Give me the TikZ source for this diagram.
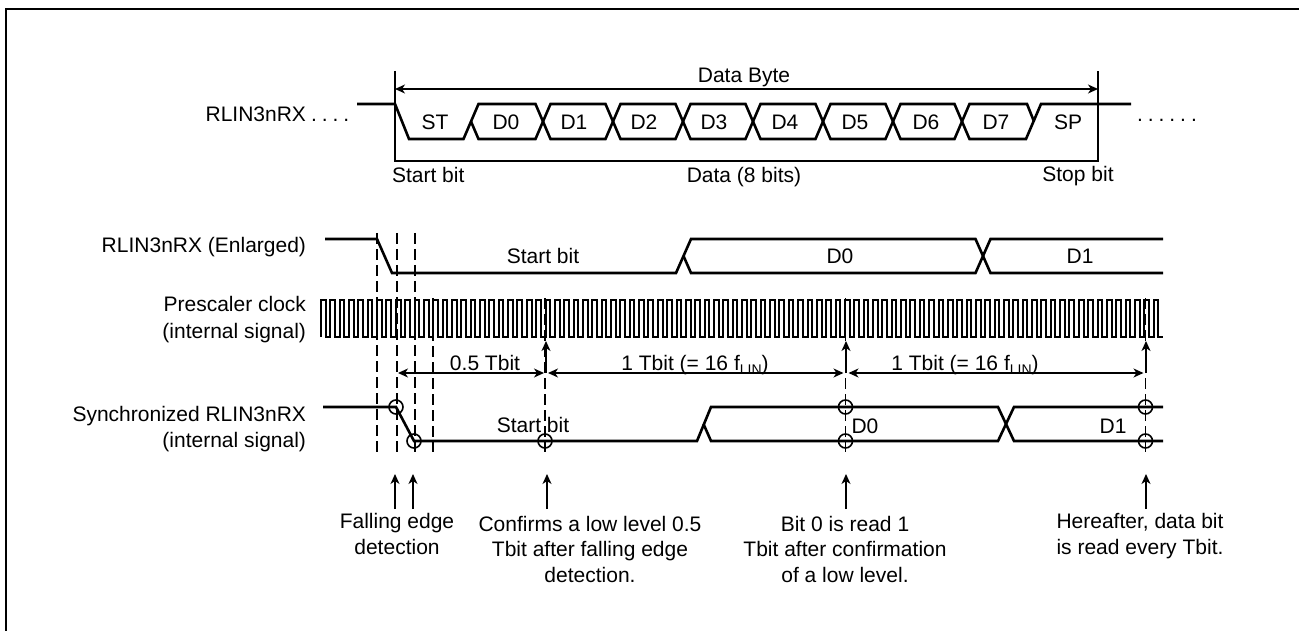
\documentclass[tikz,border=0pt]{standalone}
\usepackage{fontspec}
\setmainfont{Liberation Sans}
\usetikzlibrary{arrows.meta}
\newcommand{\spdots}[1]{\foreach \i in {1,...,#1}{\hbox to 10.8pt{.\hss}}}
\newcommand{\flin}{f\raisebox{-0.22em}{\fontsize{14}{14}\selectfont LIN}}
\tikzset{
  x=1pt,y=-1pt,
  every node/.style={inner sep=0pt,outer sep=0pt,font=\fontsize{21}{25}\selectfont,text=black},
  sig/.style={line width=2.6pt,line join=miter},
  box/.style={line width=2pt},
  clk/.style={line width=2pt,line join=miter},
  dsh/.style={line width=1.3pt,dash pattern=on 11pt off 5pt},
  arr/.style={line width=1.3pt,-{Stealth[length=10pt,width=9pt,inset=3pt]}},
  darr/.style={line width=1.3pt,{Stealth[length=10pt,width=9pt,inset=3pt]}-{Stealth[length=10pt,width=9pt,inset=3pt]}},
  ring/.style={line width=1.6pt},
  lab/.style={anchor=base east,align=right},
  cen/.style={anchor=base,align=center},
}
\begin{document}
\begin{tikzpicture}
\useasboundingbox (0,0) rectangle (1299,631);
\draw[line width=2pt] (6,631) -- (6,9) -- (1299,9);

% top signal
\draw[box] (395,71) -- (395,161) -- (1098,161) -- (1098,71);
\draw[darr] (395,89) -- (1098,89);
\draw[sig] (357,104) -- (395,104) -- (409,139) -- (463.5,139) -- (478.5,104) -- (535.5,104) -- (550.5,139) -- (605.5,139) -- (620.5,104) -- (675.5,104) -- (690.5,139) -- (745.5,139) -- (760.5,104) -- (815.5,104) -- (830.5,139) -- (885.5,139) -- (900.5,104) -- (954.5,104) -- (969.5,139) -- (1026,139) -- (1041,104) -- (1131,104);
\draw[sig] (471,121.5) -- (478.5,139) -- (535.5,139) -- (550.5,104) -- (605.5,104) -- (620.5,139) -- (675.5,139) -- (690.5,104) -- (745.5,104) -- (760.5,139) -- (815.5,139) -- (830.5,104) -- (885.5,104) -- (900.5,139) -- (954.5,139) -- (969.5,104) -- (1027,104) -- (1034,121.5);
\node[lab] (t1) at (306,122) {RLIN3nRX};
\node[anchor=base west] (d1) at (311,122) {\spdots{4}};
\node[anchor=base west] (d2) at (1137,122) {\spdots{6}};
\node[cen] (st) at (435,130) {ST};
\node[cen] (b0) at (506,130) {D0};
\node[cen] (b1) at (574,130) {D1};
\node[cen] (b2) at (644,130) {D2};
\node[cen] (b3) at (714,130) {D3};
\node[cen] (b4) at (785,130) {D4};
\node[cen] (b5) at (855,130) {D5};
\node[cen] (b6) at (926,130) {D6};
\node[cen] (b7) at (996,130) {D7};
\node[cen] (sp) at (1068,130) {SP};
\node[cen] (db) at (744,83) {Data Byte};
\node[anchor=base west] (sb) at (392,183) {Start bit};
\node[cen] (d8) at (744,183) {Data (8 bits)};
\node[cen] (pb) at (1078,182) {Stop bit};

% enlarged
\draw[sig] (325,239) -- (377,239) -- (392,273) -- (676,273) -- (691,239) -- (975.5,239) -- (990.5,273) -- (1163,273);
\draw[sig] (683.5,256) -- (691,273) -- (975.5,273) -- (990.5,239) -- (1163,239);
\node[lab] (t2) at (306,253) {RLIN3nRX (Enlarged)};
\node[cen] (e1) at (543,264) {Start bit};
\node[cen] (e2) at (840,264) {D0};
\node[cen] (e3) at (1080,264) {D1};

% clock
\draw[clk] (321,336.5)
  \foreach \k in {0,...,89}{ -- ({321+9.356*\k},300) -- ({321+9.356*\k+4.678},300) -- ({321+9.356*\k+4.678},336.5) -- ({321+9.356*(\k+1)},336.5) };
\node[lab,align=right] (t3) at (306,312) {Prescaler clock};
\node[lab] (t3b) at (306,338) {(internal signal)};

% dashed
\draw[dsh] (377,233) -- (377,452);
\draw[dsh] (397,233) -- (397,452);
\draw[dsh] (415,233) -- (415,452);
\draw[dsh] (433,298) -- (433,452);
\draw[dsh] (545,298) -- (545,452);
\draw[dsh] (845.5,298) -- (845.5,452);
\draw[dsh] (1145.5,298) -- (1145.5,452);

% timing arrows
\draw[arr] (546,373) -- (546,341);
\draw[arr] (846,373) -- (846,341);
\draw[arr] (1146,373) -- (1146,341);
\draw[darr] (398,373) -- (544,373);
\draw[darr] (548,373) -- (843.5,373);
\draw[darr] (848.5,373) -- (1143.5,373);
\node[cen] (h1) at (485,370) {0.5 Tbit};
\node[cen] (h2) at (695,370) {1 Tbit (= 16 \flin)};
\node[cen] (h3) at (965,370) {1 Tbit (= 16 \flin)};

% synchronized
\draw[sig] (323,407) -- (396,407) -- (414,441) -- (697,441) -- (711,407) -- (998,407) -- (1014,441) -- (1163,441);
\draw[sig] (703.5,424) -- (711,441) -- (998,441) -- (1014,407) -- (1163,407);
\foreach \p in {(396,407),(414,441),(545,441),(845.5,407),(845.5,441),(1145.5,407),(1145.5,441)}
  \draw[ring] \p circle (7);
\node[lab] (t4) at (306,421) {Synchronized RLIN3nRX};
\node[lab] (t4b) at (306,447) {(internal signal)};
\node[cen] (s1) at (533,432) {Start bit};
\node[cen] (s2) at (865,433) {D0};
\node[cen] (s3) at (1113,433) {D1};

% bottom arrows
\draw[arr] (395,509) -- (395,474);
\draw[arr] (413,509) -- (413,474);
\draw[arr] (547,509) -- (547,474);
\draw[arr] (846,509) -- (846,474);
\draw[arr] (1146,509) -- (1146,474);
\node[cen] (c1) at (397,528) {Falling edge};
\node[cen] (c1b) at (397,554) {detection};
\node[cen] (c2) at (590,531) {Confirms a low level 0.5};
\node[cen] (c2b) at (590,556) {Tbit after falling edge};
\node[cen] (c2c) at (590,582) {detection.};
\node[cen] (c3) at (845,531) {Bit 0 is read 1};
\node[cen] (c3b) at (845,556) {Tbit after confirmation};
\node[cen] (c3c) at (845,582) {of a low level.};
\node[cen] (c4) at (1140,528) {Hereafter, data bit};
\node[cen] (c4b) at (1140,554) {is read every Tbit.};
\end{tikzpicture}
\end{document}
